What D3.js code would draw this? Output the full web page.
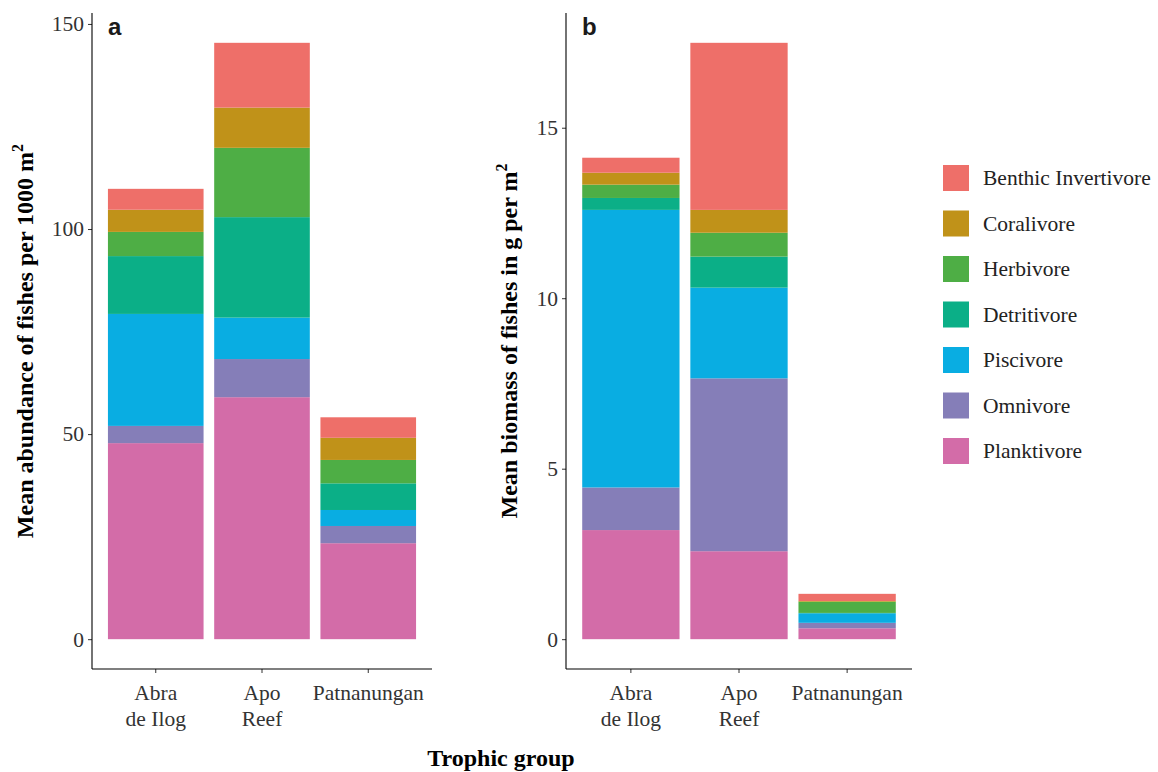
<!DOCTYPE html>
<html>
<head>
<meta charset="utf-8">
<script src="https://cdn.jsdelivr.net/npm/d3@7"></script>
<style>
  html, body { margin: 0; padding: 0; background: #fff; }
  svg { display: block; }
</style>
</head>
<body>
<svg id="chart" width="1158" height="772"></svg>
<script>
// ---- data ----
const sites = ["Abra de Ilog", "Apo Reef", "Patnanungan"];
const siteLines = [["Abra", "de Ilog"], ["Apo", "Reef"], ["Patnanungan"]];
// stacking order bottom -> top
const groups = ["Planktivore", "Omnivore", "Piscivore", "Detritivore", "Herbivore", "Coralivore", "Benthic Invertivore"];
const legendOrder = ["Benthic Invertivore", "Coralivore", "Herbivore", "Detritivore", "Piscivore", "Omnivore", "Planktivore"];
const groupColors = ["#D36CA8", "#857EB8", "#09ADE2", "#0BAF87", "#4EAE45", "#C09219", "#EE6F69"];

// panel a: mean abundance per 1000 m2 (values in groups order)
const abundanceAbra = [47.8, 4.2, 27.3, 14.1, 5.9, 5.4, 5.1];
const abundanceApo  = [59.0, 9.3, 10.1, 24.5, 16.9, 9.8, 15.8];
const abundancePatn = [23.4, 4.2, 3.9, 6.5, 5.7, 5.4, 5.0];
// panel b: mean biomass g per m2
const biomassAbra = [3.20, 1.25, 8.14, 0.35, 0.39, 0.35, 0.44];
const biomassApo  = [2.58, 5.07, 2.66, 0.91, 0.70, 0.67, 4.90];
const biomassPatn = [0.32, 0.16, 0.28, 0.01, 0.33, 0.02, 0.21];

const ticksA = [0, 50, 100, 150];
const ticksB = [0, 5, 10, 15];

const svg = d3.select("#chart");
const color = d3.scaleOrdinal().domain(groups).range(groupColors);
const serif = "'Liberation Serif', 'Times New Roman', serif";
const sans = "'Liberation Sans', Arial, sans-serif";

function buildRows(arrs) {
  return sites.map((s, i) => {
    const row = { site: s };
    groups.forEach((g, j) => row[g] = arrs[i][j]);
    return row;
  });
}

function drawPanel(opts) {
  const { left, right, top, bottom, rows, ticks, tag, title } = opts;
  const stack = d3.stack().keys(groups)(rows);
  const maxV = d3.max(rows, r => d3.sum(groups, g => r[g]));
  const y = d3.scaleLinear().domain([-0.05 * maxV, 1.05 * maxV]).range([bottom, top]);
  const x = d3.scaleBand().domain(sites).range([left, right]).paddingInner(0.1).paddingOuter(0.15);

  const g = svg.append("g");
  g.selectAll("g.layer").data(stack).join("g")
    .attr("fill", d => color(d.key))
    .selectAll("rect").data(d => d).join("rect")
    .attr("x", d => x(d.data.site))
    .attr("width", x.bandwidth())
    .attr("y", d => y(d[1]))
    .attr("height", d => Math.max(0, y(d[0]) - y(d[1])));

  // y axis
  const yAxis = g.append("g").attr("transform", `translate(${left},0)`)
    .call(d3.axisLeft(y).tickValues(ticks).tickSize(4).tickPadding(4));
  yAxis.select(".domain").remove();
  yAxis.selectAll(".tick line").attr("stroke", "#333");
  yAxis.selectAll(".tick text").attr("font-family", serif).attr("font-size", 21.5).attr("fill", "#333");
  g.append("line").attr("x1", left).attr("x2", left).attr("y1", top).attr("y2", bottom)
    .attr("stroke", "#000").attr("stroke-width", 1.1);

  // x axis
  const xAxis = g.append("g").attr("transform", `translate(0,${bottom})`)
    .call(d3.axisBottom(x).tickSize(4).tickFormat(""));
  xAxis.select(".domain").remove();
  xAxis.selectAll(".tick line").attr("stroke", "#333");
  g.append("line").attr("x1", left).attr("x2", right).attr("y1", bottom).attr("y2", bottom)
    .attr("stroke", "#000").attr("stroke-width", 1.1);
  sites.forEach((s, i) => {
    const t = g.append("text").attr("text-anchor", "middle")
      .attr("font-family", serif).attr("font-size", 21.5).attr("fill", "#333");
    siteLines[i].forEach((ln, k) => {
      t.append("tspan").attr("x", x(s) + x.bandwidth() / 2).attr("y", bottom + 31 + k * 26).text(ln);
    });
  });

  // tag
  g.append("text").attr("x", left + 16).attr("y", top + 22)
    .attr("font-family", sans).attr("font-weight", "bold").attr("font-size", 24).attr("fill", "#1a1a1a")
    .text(tag);

  // y title
  const ty = g.append("text")
    .attr("transform", `translate(${opts.titleX},${(top + bottom) / 2}) rotate(-90)`)
    .attr("text-anchor", "middle")
    .attr("font-family", serif).attr("font-weight", "bold").attr("font-size", 24).attr("fill", "#000");
  ty.append("tspan").text(title);
  ty.append("tspan").attr("font-size", 16).attr("dy", -10).text("2");
}

drawPanel({ left: 92, right: 432, top: 13, bottom: 669,
  rows: buildRows([abundanceAbra, abundanceApo, abundancePatn]),
  ticks: ticksA, tag: "a", title: "Mean abundance of fishes per 1000 m", titleX: 33 });
drawPanel({ left: 566, right: 912, top: 13, bottom: 669,
  rows: buildRows([biomassAbra, biomassApo, biomassPatn]),
  ticks: ticksB, tag: "b", title: "Mean biomass of fishes in g per m", titleX: 517 });

// shared x title
svg.append("text").attr("x", 501).attr("y", 766).attr("text-anchor", "middle")
  .attr("font-family", serif).attr("font-weight", "bold").attr("font-size", 24).attr("fill", "#000")
  .text("Trophic group");

// legend
const leg = svg.append("g").attr("transform", "translate(943,165)");
legendOrder.forEach((k, i) => {
  const row = leg.append("g").attr("transform", `translate(0,${i * 45.5})`);
  row.append("rect").attr("width", 26).attr("height", 26).attr("fill", color(k));
  row.append("text").attr("x", 40).attr("y", 20).attr("font-family", serif).attr("font-size", 21.5)
    .attr("fill", "#222").text(k);
});
</script>
</body>
</html>
